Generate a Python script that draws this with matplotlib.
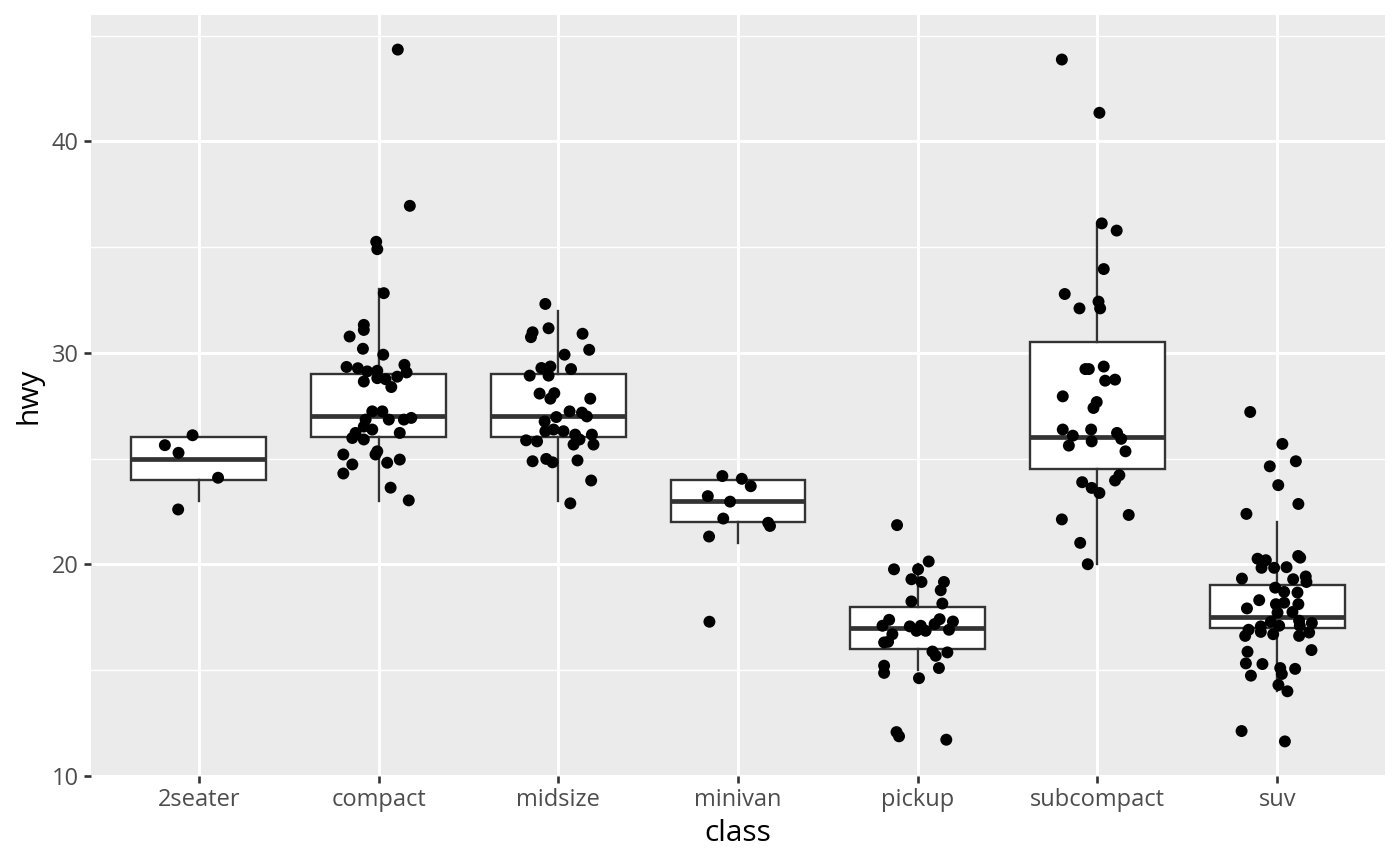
import matplotlib
matplotlib.use("Agg")
import matplotlib.pyplot as plt
import numpy as np

plt.rcParams['font.family'] = ['Open Sans', 'DejaVu Sans']

classes = ["2seater", "compact", "midsize", "minivan", "pickup", "subcompact", "suv"]

# box statistics
box_q1 = [24, 26, 26, 22, 16, 24.5, 17]
box_med = [25, 27, 27, 23, 17, 26, 17.5]
box_q3 = [26, 29, 29, 24, 18, 30.5, 19]
box_lo = [23, 23, 23, 21, 15, 20, 14]
box_hi = [26, 33, 32, 24, 20, 36, 22]

# jittered points: horizontal offset from class centre, and jittered hwy
dx_2seater = [-0.035, -0.189, -0.113, 0.107, -0.115]
y_2seater = [26.10, 25.63, 25.27, 24.09, 22.59]

dx_compact = [0.107, 0.174, -0.013, -0.007, 0.029, -0.082, -0.082, -0.161, -0.087, 0.026,
              -0.178, -0.115, -0.063, -0.007, 0.144, 0.156, 0.104, -0.007, -0.082, 0.039,
              0.071, -0.035, 0.021, -0.072, 0.057, 0.141, 0.182, -0.035, -0.082, 0.118,
              -0.128, -0.146, -0.082, -0.196, -0.017, -0.007, -0.146, 0.048, 0.118, -0.196,
              0.067, 0.168]
y_compact = [44.34, 36.95, 35.25, 34.90, 32.82, 31.32, 31.08, 30.77, 30.19, 29.91,
             29.33, 29.27, 29.12, 29.15, 29.43, 29.07, 28.87, 28.80, 28.64, 28.75,
             28.38, 27.23, 27.23, 26.84, 26.84, 26.84, 26.92, 26.37, 26.51, 26.21,
             26.21, 25.97, 25.90, 25.19, 25.19, 25.34, 24.72, 24.80, 24.95, 24.29,
             23.62, 23.02]

dx_midsize = [-0.072, -0.054, -0.143, -0.152, 0.135, 0.172, 0.035, -0.094, -0.044, 0.071,
              -0.159, -0.054, -0.104, -0.022, -0.044, 0.178, 0.063, 0.132, 0.159, -0.011,
              -0.076, -0.072, -0.026, 0.029, 0.094, 0.187, -0.179, -0.118, 0.118, 0.085,
              0.196, -0.143, -0.067, -0.032, 0.107, 0.183, 0.067]
y_midsize = [32.31, 31.16, 30.97, 30.74, 30.90, 30.14, 29.91, 29.28, 29.35, 29.23,
             28.92, 28.92, 28.07, 28.09, 27.83, 27.83, 27.23, 27.17, 26.99, 26.96,
             26.75, 26.29, 26.37, 26.29, 26.13, 26.13, 25.86, 25.81, 25.90, 25.66,
             25.66, 24.87, 24.98, 24.82, 24.91, 23.96, 22.88]

dx_minivan = [-0.087, 0.021, 0.071, -0.168, -0.044, -0.082, 0.168, 0.178, -0.161, -0.159]
y_minivan = [24.17, 24.04, 23.69, 23.22, 22.96, 22.16, 21.96, 21.81, 21.31, 17.28]

dx_pickup = [-0.115, 0.061, -0.132, 0.002, -0.035, 0.021, 0.146, 0.128, -0.035, 0.137,
             -0.159, -0.196, 0.122, 0.196, 0.094, -0.044, 0.017, -0.007, 0.044, 0.174,
             -0.141, -0.187, -0.165, 0.082, 0.100, 0.165, -0.187, -0.187, 0.118, 0.007,
             -0.118, -0.104, 0.159]
y_pickup = [21.85, 20.13, 19.76, 19.76, 19.29, 19.16, 19.16, 18.77, 18.24, 18.14,
            17.37, 17.09, 17.40, 17.29, 17.17, 17.06, 17.09, 16.85, 16.85, 16.90,
            16.69, 16.30, 16.33, 15.87, 15.67, 15.83, 15.20, 14.86, 15.09, 14.61,
            12.06, 11.86, 11.70]

dx_subcompact = [-0.198, 0.011, 0.024, 0.107, 0.035, -0.182, 0.006, -0.100, 0.015, -0.067,
                 -0.048, 0.035, 0.043, 0.098, -0.193, -0.004, -0.022, -0.193, -0.137, -0.035,
                 0.109, 0.132, -0.159, -0.032, 0.156, 0.122, 0.098, -0.085, -0.032, 0.011,
                 -0.198, 0.174, -0.096, -0.054]
y_subcompact = [43.87, 41.35, 36.12, 35.78, 33.96, 32.78, 32.42, 32.10, 32.10, 29.23,
                29.23, 29.35, 28.68, 28.73, 27.94, 27.67, 27.39, 26.37, 26.08, 26.37,
                26.21, 25.93, 25.61, 25.81, 25.34, 24.21, 23.96, 23.88, 23.61, 23.37,
                22.12, 22.33, 21.01, 20.00]

dx_suv = [-0.150, 0.029, -0.041, 0.104, 0.006, 0.118, -0.171, -0.109, -0.063, 0.117,
          0.128, -0.087, -0.017, 0.052, -0.196, 0.089, 0.159, 0.163, -0.011, 0.039,
          0.113, -0.100, -0.168, -0.007, 0.039, 0.118, 0.002, 0.085, -0.035, 0.122,
          0.193, -0.091, 0.011, -0.159, 0.126, -0.022, -0.178, -0.091, 0.122, 0.178,
          0.191, -0.165, -0.174, -0.082, 0.017, 0.100, 0.026, -0.146, 0.007, 0.057,
          -0.198, 0.043]
y_suv = [27.20, 25.69, 24.63, 24.87, 23.74, 22.85, 22.38, 20.26, 20.19, 20.39,
         20.31, 19.83, 19.83, 19.86, 19.32, 19.29, 19.42, 19.16, 18.89, 18.69,
         18.66, 18.30, 17.91, 18.11, 18.18, 18.11, 17.71, 17.74, 17.28, 17.33,
         17.22, 17.06, 17.09, 16.90, 17.09, 16.69, 16.61, 16.80, 16.61, 16.77,
         15.94, 15.86, 15.31, 15.28, 15.09, 15.05, 14.81, 14.73, 14.29, 13.99,
         12.11, 11.62]

point_dx = [dx_2seater, dx_compact, dx_midsize, dx_minivan, dx_pickup, dx_subcompact, dx_suv]
point_y = [y_2seater, y_compact, y_midsize, y_minivan, y_pickup, y_subcompact, y_suv]

y_ticks = [10, 20, 30, 40]
y_minor = [15, 25, 35, 45]

fig = plt.figure(figsize=(14, 8.66), dpi=100)
ax = fig.add_axes([91 / 1400, (866 - 776) / 866, (1385 - 91) / 1400, (776 - 15) / 866])
ax.set_facecolor("#EBEBEB")
for s in ax.spines.values():
    s.set_visible(False)

positions = np.arange(len(classes))

stats = []
for i in range(len(classes)):
    stats.append(dict(q1=box_q1[i], med=box_med[i], q3=box_q3[i],
                      whislo=box_lo[i], whishi=box_hi[i], fliers=[]))
ax.bxp(stats, positions=positions, widths=0.75, showfliers=False, showcaps=False,
       patch_artist=True, manage_ticks=False,
       boxprops=dict(facecolor="white", edgecolor="#333333", linewidth=1.7),
       medianprops=dict(color="#333333", linewidth=3.4, solid_capstyle="butt"),
       whiskerprops=dict(color="#333333", linewidth=1.7),
       zorder=2)

for i in range(len(classes)):
    xs = positions[i] + np.array(point_dx[i])
    ax.scatter(xs, point_y[i], s=74, color="black", edgecolors="none", zorder=3)

all_y = np.concatenate([np.array(v) for v in point_y])
ymin, ymax = all_y.min(), all_y.max()
rng = ymax - ymin
ax.set_ylim(ymin - 0.05 * rng, ymax + 0.05 * rng)
ax.set_xlim(-0.6, len(classes) - 1 + 0.6)

# grid and ticks
ax.set_yticks(y_ticks)
ax.set_yticks(y_minor, minor=True)
ax.set_xticks(positions)
ax.set_xticklabels(classes)
ax.set_xticks([], minor=True)
ax.grid(which="major", color="white", linewidth=2.1)
ax.grid(which="minor", axis="y", color="white", linewidth=1.05)
ax.set_axisbelow(True)

ax.tick_params(axis="both", which="major", colors="#333333", length=5.2, width=1.9,
               labelsize=17, labelcolor="#4D4D4D", pad=3.5)
ax.tick_params(axis="both", which="minor", length=0)

ax.set_xlabel("class", fontsize=21.5, color="black", labelpad=5)
ax.set_ylabel("hwy", fontsize=21.5, color="black", labelpad=6)

fig.savefig("out.png", dpi=100)
